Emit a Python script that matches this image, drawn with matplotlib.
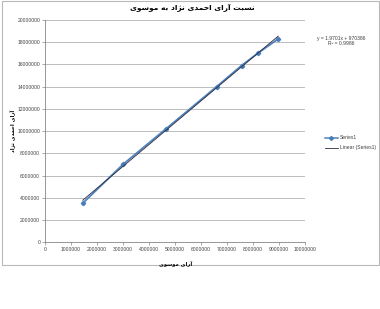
import matplotlib
matplotlib.use("Agg")
import matplotlib.pyplot as plt
from matplotlib.patches import Rectangle
from matplotlib.lines import Line2D
import numpy as np

# داده‌ها (خوانده شده از نمودار)
votes_mousavi = [1450000, 3010000, 4650000, 6600000, 7560000, 8180000, 8970000]
votes_ahmadinejad = [3510000, 7030000, 10200000, 14000000, 15900000, 17000000, 18300000]

title_text = "نسبت آرای احمدی نژاد به موسوی"
xlabel_text = "آرای موسوی"
ylabel_text = "آرای احمدی نژاد"
trend_text = "y = 1.9701x + 970386\nR² = 0.9986"
series_label = "Series1"
trend_label = "Linear (Series1)"

x_ticks = np.arange(0, 10000001, 1000000)
y_ticks = np.arange(0, 20000001, 2000000)

# شکل‌دهی ساده حروف فارسی (matplotlib خودش اتصال حروف را انجام نمی‌دهد)
FORMS = {
    'ا': ('\uFE8D', '\uFE8E', None, None),
    'آ': ('\uFE81', '\uFE82', None, None),
    'ب': ('\uFE8F', '\uFE90', '\uFE91', '\uFE92'),
    'ت': ('\uFE95', '\uFE96', '\uFE97', '\uFE98'),
    'ح': ('\uFEA1', '\uFEA2', '\uFEA3', '\uFEA4'),
    'د': ('\uFEA9', '\uFEAA', None, None),
    'ر': ('\uFEAD', '\uFEAE', None, None),
    'ژ': ('\uFB8A', '\uFB8B', None, None),
    'س': ('\uFEB1', '\uFEB2', '\uFEB3', '\uFEB4'),
    'م': ('\uFEE1', '\uFEE2', '\uFEE3', '\uFEE4'),
    'ن': ('\uFEE5', '\uFEE6', '\uFEE7', '\uFEE8'),
    'ه': ('\uFEE9', '\uFEEA', '\uFEEB', '\uFEEC'),
    'و': ('\uFEED', '\uFEEE', None, None),
    'ی': ('\uFBFC', '\uFBFD', '\uFBFE', '\uFBFF'),
}


def shape_fa(text):
    out = []
    for i, ch in enumerate(text):
        if ch not in FORMS:
            out.append(ch)
            continue
        prev = text[i - 1] if i > 0 else None
        nxt = text[i + 1] if i + 1 < len(text) else None
        joins_prev = prev in FORMS and FORMS[prev][2] is not None
        joins_next = nxt in FORMS and FORMS[ch][2] is not None
        iso, fin, ini, med = FORMS[ch]
        if joins_prev and joins_next:
            out.append(med)
        elif joins_prev:
            out.append(fin)
        elif joins_next:
            out.append(ini)
        else:
            out.append(iso)
    return ''.join(reversed(out))


plt.rcParams['font.family'] = ['Liberation Sans', 'DejaVu Sans']

W, H = 380, 309
fig = plt.figure(figsize=(W / 100, H / 100), dpi=100)
ax = fig.add_axes([45 / W, 1 - 242.3 / H, 260 / W, 222.3 / H])

# قاب دور نمودار
fig.patches.append(Rectangle((2 / W, 1 - 265 / H), 377 / W, 265 / H - 0.5 / H,
                             transform=fig.transFigure, fill=False,
                             edgecolor='#B8B8B8', linewidth=0.8))

ax.plot(votes_mousavi, votes_ahmadinejad, color='#4F81BD', linewidth=1.3,
        marker='D', markersize=2.2, markerfacecolor='#4A7EBB',
        markeredgecolor='#4A7EBB', zorder=3)

coef = np.polyfit(votes_mousavi, votes_ahmadinejad, 1)
xt = np.array([min(votes_mousavi), max(votes_mousavi)])
ax.plot(xt, np.polyval(coef, xt), color='#2B2B3B', linewidth=0.6, zorder=4)

ax.set_xlim(0, 10000000)
ax.set_ylim(0, 20000000)
ax.set_xticks(x_ticks)
ax.set_yticks(y_ticks)
ax.set_xticklabels([str(v) for v in x_ticks])
ax.set_yticklabels([str(v) for v in y_ticks])
ax.tick_params(labelsize=3.6, colors='#404040', length=2, width=0.5,
               pad=1.5, color='#868686')
ax.yaxis.grid(True, color='#BDBDBD', linewidth=0.7)
ax.set_axisbelow(True)
for s in ['top', 'right']:
    ax.spines[s].set_visible(False)
for s in ['left', 'bottom']:
    ax.spines[s].set_color('#868686')
    ax.spines[s].set_linewidth(0.6)

fig.text(192 / W, 1 - 8 / H, shape_fa(title_text), ha='center', va='center',
         fontsize=5.4, fontweight='bold', family=['DejaVu Sans'])
fig.text(176 / W, 1 - 263 / H, shape_fa(xlabel_text), ha='center', va='center',
         fontsize=3.8, fontweight='bold', family=['DejaVu Sans'])
fig.text(12 / W, 1 - 131 / H, shape_fa(ylabel_text), ha='center', va='center',
         rotation=90, fontsize=3.8, fontweight='bold', family=['DejaVu Sans'])

fig.text(341 / W, 1 - 41 / H, trend_text, ha='center', va='center',
         fontsize=3.6, color='#404040', linespacing=1.1)

handles = [Line2D([], [], color='#4F81BD', linewidth=1.1, marker='D',
                  markersize=2.0, markerfacecolor='#4A7EBB', markeredgecolor='#4A7EBB'),
           Line2D([], [], color='#2B2B3B', linewidth=0.6)]
fig.legend(handles, [series_label, trend_label], loc='center left',
           bbox_to_anchor=(322 / W, 1 - 143 / H), frameon=False,
           fontsize=3.6, handlelength=2.7, handletextpad=0.3,
           labelspacing=1.0, borderpad=0, labelcolor='#404040')

fig.savefig('out.png', dpi=100)
